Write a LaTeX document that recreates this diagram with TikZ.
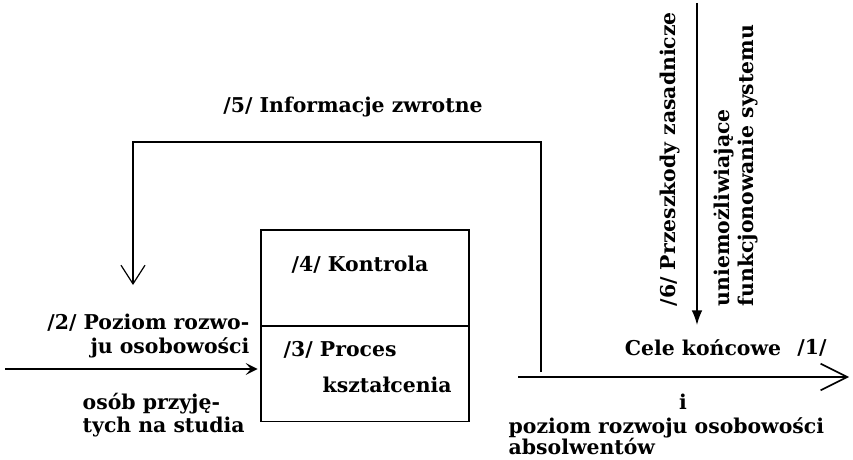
\documentclass[tikz,border=0pt]{standalone}
\usepackage{fontspec}
\setmainfont{DejaVu Serif}
\usepackage{tikz}
\usetikzlibrary{arrows.meta,positioning}
\definecolor{ink}{RGB}{0,0,0}

\begin{document}
\begin{tikzpicture}[x=0.75pt,y=-0.75pt,line width=1.1pt,color=ink,
  lbl/.style={font=\bfseries\fontsize{15.3}{17.3}\selectfont,inner sep=0pt},
  cell/.style={draw,minimum width=156pt,inner sep=0pt}]
  \useasboundingbox (0,0) rectangle (853,460);
  % system box
  \node[cell,minimum height=72pt] (kontrola) at (365,278) {};
  \node[cell,minimum height=71.6pt,below=-1.1pt of kontrola] (proces) {};
  \node[lbl] (kontrolaTxt) at (360,265) {/4/ Kontrola};
  \node[lbl,anchor=west] (procesTxt) at (283,350) {/3/ Proces};
  \node[lbl,anchor=west] (ksztTxt) at (322,385) {kształcenia};

  % input
  \coordinate (inStart) at (5,369);
  \draw[-{Stealth[length=9pt,width=9pt,inset=4pt]},shorten >=2pt] (inStart) -- (proces.west |- inStart);
  \node[lbl,anchor=east,align=right] (inTop) at (250,336) {/2/ Poziom rozwo-\\ju osobowości};
  \node[lbl,anchor=west,align=left] (inBot) at (82,415) {osób przyję-\\tych na studia};

  % feedback loop
  \coordinate (fbA) at (541,372);
  \coordinate (fbB) at (541,142);
  \coordinate (fbC) at (133,142);
  \coordinate (fbD) at (133,285);
  \draw[-{Straight Barb[length=14pt,width=18pt,line width=0.9pt]}] (fbA) -- (fbB) -- (fbC) -- (fbD);
  \node[lbl] (fbTxt) at (353,107) {/5/ Informacje zwrotne};

  % output
  \coordinate (outStart) at (518,377);
  \coordinate (outEnd) at (849,377);
  \draw[-{Straight Barb[length=20pt,width=20pt,line width=1.2pt]}] (outStart) -- (outEnd);
  \node[lbl] (celeTxt) at (703,348) {Cele końcowe};
  \node[lbl] (jedenTxt) at (812,348) {/1/};
  \node[lbl] (iTxt) at (683,402) {i};
  \node[lbl,anchor=west,align=left,font=\bfseries\fontsize{15.3}{16}\selectfont] (absTxt) at (508,436.5) {poziom rozwoju osobowości\\absolwentów};

  % disturbances
  \coordinate (obStart) at (697,3);
  \coordinate (obEnd) at (697,325);
  \draw[-{Latex[length=11pt,width=8pt]}] (obStart) -- (obEnd);
  \node[lbl,rotate=90,anchor=west] (obTxtA) at (670,307) {/6/ Przeszkody zasadnicze};
  \node[lbl,rotate=90,anchor=west,align=left] (obTxtB) at (736,307) {uniemożliwiające\\funkcjonowanie systemu};
\end{tikzpicture}
\end{document}
